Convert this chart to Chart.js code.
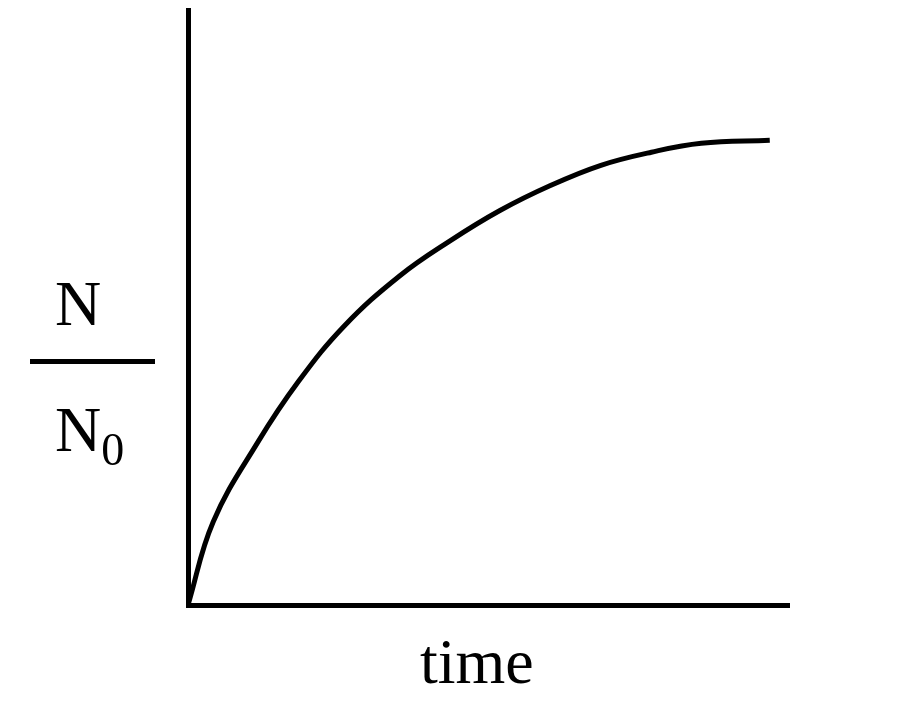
<!DOCTYPE html>
<html><head><meta charset="utf-8">
<script src="https://cdn.jsdelivr.net/npm/chart.js@4"></script>
<style>
html,body{margin:0;padding:0;background:#fff;}
#wrap{position:relative;width:900px;height:721px;}
.t{position:absolute;font-family:"Liberation Serif",serif;color:#000;line-height:1;}
</style></head><body>
<div id="wrap">
<canvas id="c" width="900" height="721"></canvas>
<div class="t" style="left:420px;top:630px;font-size:64px;">time</div>
<div class="t" style="left:55px;top:272px;font-size:64px;">N</div>
<div style="position:absolute;left:30px;top:359px;width:125px;height:5px;background:#000;"></div>
<div class="t" style="left:55px;top:398px;font-size:64px;">N<span style="font-size:46px;position:relative;top:14px;">0</span></div>
</div>
<script>
const timeX = [0,0.42,1.17,1.84,2.60,3.52,4.36,5.19,6.03,6.87,7.71,8.54,9.68];
const ratioY = [0,1.40,2.75,3.76,4.69,5.53,6.12,6.63,7.05,7.39,7.61,7.76,7.81];
const pts = timeX.map((x,i)=>({x:x,y:ratioY[i]}));
new Chart(document.getElementById('c'),{
  type:'line',
  data:{datasets:[{data:pts,borderColor:'#000',borderWidth:5,pointRadius:0,tension:0.4,fill:false}]},
  options:{
    responsive:false,animation:false,
    layout:{padding:{left:188,top:10,right:111,bottom:116}},
    plugins:{legend:{display:false},tooltip:{enabled:false}},
    scales:{
      x:{type:'linear',min:0,max:10,ticks:{display:false},grid:{display:false,drawTicks:false},border:{color:'#000',width:5}},
      y:{min:0,max:10,ticks:{display:false},grid:{display:false,drawTicks:false},border:{color:'#000',width:5}}
    }
  }
});
</script>
</body></html>
